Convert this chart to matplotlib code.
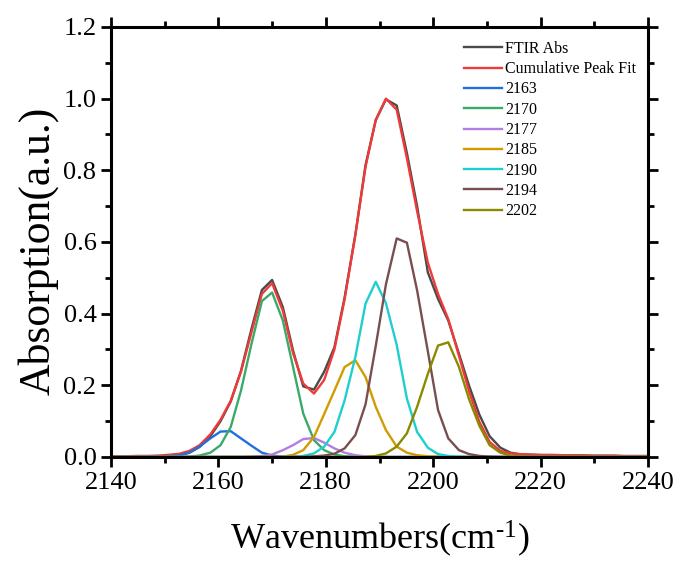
"""
plot.py - CO adsorption FTIR band, peak deconvolution
Black: measured absorbance, red: cumulative fit, coloured: single fitted peaks
"""

import matplotlib
matplotlib.use("Agg")
import matplotlib.pyplot as plt
from matplotlib.ticker import MultipleLocator

# ── DATA ──────────────────────────────────────────────────────────────────────
wavenumber = [
    2139.2, 2141.1, 2143.0, 2144.9, 2146.9, 2148.8, 2150.7, 2152.7, 2154.6,
    2156.5, 2158.5, 2160.4, 2162.3, 2164.2, 2166.2, 2168.1, 2170.0, 2172.0,
    2173.9, 2175.8, 2177.8, 2179.7, 2181.6, 2183.5, 2185.5, 2187.4, 2189.3,
    2191.2, 2193.2, 2195.1, 2197.0, 2199.0, 2200.9, 2202.8, 2204.8, 2206.7,
    2208.6, 2210.5, 2212.5, 2214.4, 2216.3, 2218.3, 2220.2, 2222.1, 2224.1,
    2226.0, 2227.9, 2229.8, 2231.8, 2233.7, 2235.6, 2237.6, 2239.5, 2241.4,
]

ftir_abs = [
    0.000, 0.001, 0.001, 0.001, 0.001, 0.001, 0.002, 0.005, 0.012,
    0.028, 0.058, 0.100, 0.155, 0.240, 0.360, 0.466, 0.494, 0.418,
    0.297, 0.197, 0.188, 0.238, 0.306, 0.445, 0.620, 0.815, 0.940,
    0.998, 0.981, 0.848, 0.700, 0.515, 0.441, 0.381, 0.288, 0.198,
    0.118, 0.058, 0.026, 0.012, 0.007, 0.006, 0.005, 0.005, 0.004,
    0.004, 0.004, 0.003, 0.003, 0.003, 0.002, 0.002, 0.002, 0.002,
]

peak_fit = [
    0.002, 0.002, 0.002, 0.003, 0.003, 0.004, 0.006, 0.009, 0.017,
    0.033, 0.063, 0.104, 0.157, 0.238, 0.350, 0.455, 0.485, 0.408,
    0.290, 0.205, 0.177, 0.215, 0.300, 0.440, 0.620, 0.810, 0.941,
    1.000, 0.969, 0.834, 0.686, 0.542, 0.455, 0.385, 0.282, 0.182,
    0.098, 0.042, 0.017, 0.010, 0.008, 0.007, 0.006, 0.006, 0.005,
    0.005, 0.005, 0.004, 0.004, 0.004, 0.003, 0.003, 0.003, 0.003,
]

p2163 = [
    0.000, 0.000, 0.000, 0.000, 0.001, 0.001, 0.002, 0.005, 0.012,
    0.029, 0.052, 0.071, 0.072, 0.052, 0.031, 0.012, 0.004, 0.001,
    0.000, 0.000, 0.000, 0.000, 0.000, 0.000, 0.000, 0.000, 0.000,
    0.000, 0.000, 0.000, 0.000, 0.000, 0.000, 0.000, 0.000, 0.000,
    0.000, 0.000, 0.000, 0.000, 0.000, 0.000, 0.000, 0.000, 0.000,
    0.000, 0.000, 0.000, 0.000, 0.000, 0.000, 0.000, 0.000, 0.000,
]

p2170 = [
    0.000, 0.000, 0.000, 0.000, 0.000, 0.000, 0.000, 0.000, 0.001,
    0.004, 0.012, 0.033, 0.084, 0.185, 0.318, 0.435, 0.459, 0.381,
    0.251, 0.121, 0.047, 0.019, 0.007, 0.002, 0.001, 0.000, 0.000,
    0.000, 0.000, 0.000, 0.000, 0.000, 0.000, 0.000, 0.000, 0.000,
    0.000, 0.000, 0.000, 0.000, 0.000, 0.000, 0.000, 0.000, 0.000,
    0.000, 0.000, 0.000, 0.000, 0.000, 0.000, 0.000, 0.000, 0.000,
]

p2177 = [
    0.000, 0.000, 0.000, 0.000, 0.000, 0.000, 0.000, 0.000, 0.000,
    0.000, 0.000, 0.000, 0.000, 0.000, 0.001, 0.003, 0.007, 0.019,
    0.033, 0.050, 0.053, 0.040, 0.024, 0.012, 0.005, 0.002, 0.001,
    0.000, 0.000, 0.000, 0.000, 0.000, 0.000, 0.000, 0.000, 0.000,
    0.000, 0.000, 0.000, 0.000, 0.000, 0.000, 0.000, 0.000, 0.000,
    0.000, 0.000, 0.000, 0.000, 0.000, 0.000, 0.000, 0.000, 0.000,
]

p2185 = [
    0.000, 0.000, 0.000, 0.000, 0.000, 0.000, 0.000, 0.000, 0.000,
    0.000, 0.000, 0.000, 0.000, 0.000, 0.000, 0.000, 0.000, 0.001,
    0.006, 0.019, 0.056, 0.120, 0.185, 0.251, 0.270, 0.223, 0.140,
    0.075, 0.029, 0.012, 0.005, 0.002, 0.001, 0.000, 0.000, 0.000,
    0.000, 0.000, 0.000, 0.000, 0.000, 0.000, 0.000, 0.000, 0.000,
    0.000, 0.000, 0.000, 0.000, 0.000, 0.000, 0.000, 0.000, 0.000,
]

p2190 = [
    0.000, 0.000, 0.000, 0.000, 0.000, 0.000, 0.000, 0.000, 0.000,
    0.000, 0.000, 0.000, 0.000, 0.000, 0.000, 0.000, 0.000, 0.000,
    0.001, 0.003, 0.010, 0.029, 0.070, 0.158, 0.279, 0.428, 0.489,
    0.429, 0.313, 0.163, 0.070, 0.026, 0.008, 0.003, 0.001, 0.000,
    0.000, 0.000, 0.000, 0.000, 0.000, 0.000, 0.000, 0.000, 0.000,
    0.000, 0.000, 0.000, 0.000, 0.000, 0.000, 0.000, 0.000, 0.000,
]

p2194 = [
    0.000, 0.000, 0.000, 0.000, 0.000, 0.000, 0.000, 0.000, 0.000,
    0.000, 0.000, 0.000, 0.000, 0.000, 0.000, 0.000, 0.000, 0.000,
    0.000, 0.000, 0.002, 0.004, 0.009, 0.024, 0.061, 0.147, 0.310,
    0.482, 0.610, 0.598, 0.465, 0.295, 0.131, 0.052, 0.019, 0.008,
    0.003, 0.001, 0.000, 0.000, 0.000, 0.000, 0.000, 0.000, 0.000,
    0.000, 0.000, 0.000, 0.000, 0.000, 0.000, 0.000, 0.000, 0.000,
]

p2202 = [
    0.000, 0.000, 0.000, 0.000, 0.000, 0.000, 0.000, 0.000, 0.000,
    0.000, 0.000, 0.000, 0.000, 0.000, 0.000, 0.000, 0.000, 0.000,
    0.000, 0.000, 0.000, 0.000, 0.000, 0.000, 0.000, 0.000, 0.003,
    0.010, 0.029, 0.066, 0.140, 0.232, 0.311, 0.320, 0.251, 0.160,
    0.087, 0.033, 0.012, 0.004, 0.001, 0.000, 0.000, 0.000, 0.000,
    0.000, 0.000, 0.000, 0.000, 0.000, 0.000, 0.000, 0.000, 0.000,
]

SERIES = [
    (ftir_abs, "FTIR Abs",             "#4a4a4a"),
    (peak_fit, "Cumulative Peak Fit",  "#f03a3a"),
    (p2163,    "2163",                 "#1f6fe0"),
    (p2170,    "2170",                 "#3aaa6a"),
    (p2177,    "2177",                 "#b27fe0"),
    (p2185,    "2185",                 "#d19c00"),
    (p2190,    "2190",                 "#1fcfcf"),
    (p2194,    "2194",                 "#7a4e4e"),
    (p2202,    "2202",                 "#8a8a00"),
]

# ── STYLE ─────────────────────────────────────────────────────────────────────
plt.rcParams['font.family'] = ['Liberation Serif', 'DejaVu Serif']
plt.rcParams['mathtext.fontset'] = 'custom'
plt.rcParams['mathtext.rm'] = 'Liberation Serif'
plt.rcParams['mathtext.it'] = 'Liberation Serif:italic'

# ── PLOT ──────────────────────────────────────────────────────────────────────
fig = plt.figure(figsize=(6.78, 5.61), dpi=100)
ax = fig.add_axes([0.1637, 0.1854, 0.7921, 0.7665])

for ys, label, color in SERIES:
    ax.plot(wavenumber, ys, color=color, linewidth=1.7, label=label)

ax.set_xlim(2140, 2240)
ax.set_ylim(0, 1.2)
ax.xaxis.set_major_locator(MultipleLocator(20))
ax.xaxis.set_minor_locator(MultipleLocator(10))
ax.yaxis.set_major_locator(MultipleLocator(0.2))
ax.yaxis.set_minor_locator(MultipleLocator(0.1))
ax.yaxis.set_major_formatter(plt.FuncFormatter(lambda v, _: f"{v:.1f}"))

for sp in ax.spines.values():
    sp.set_linewidth(2.2)
ax.tick_params(which='both', direction='out', top=True, right=True,
               labeltop=False, labelright=False, labelsize=19, width=2)
ax.tick_params(which='major', length=7)
ax.tick_params(which='minor', length=4)

# hyphen (U+2010) so the superscript reads "-1" like the original, not a minus
ax.set_xlabel("Wavenumbers(cm$^{\u20101}$)", fontsize=26, labelpad=18)
ax.set_ylabel("Absorption(a.u.)", fontsize=31.5)
ax.yaxis.set_label_coords(-0.097, 0.48)

ax.legend(loc='upper right', bbox_to_anchor=(0.995, 0.99), frameon=False,
          fontsize=11.5, handlelength=2.4, handletextpad=0.15,
          labelspacing=0.27, borderaxespad=0.2)

fig.savefig("out.png", dpi=100)
